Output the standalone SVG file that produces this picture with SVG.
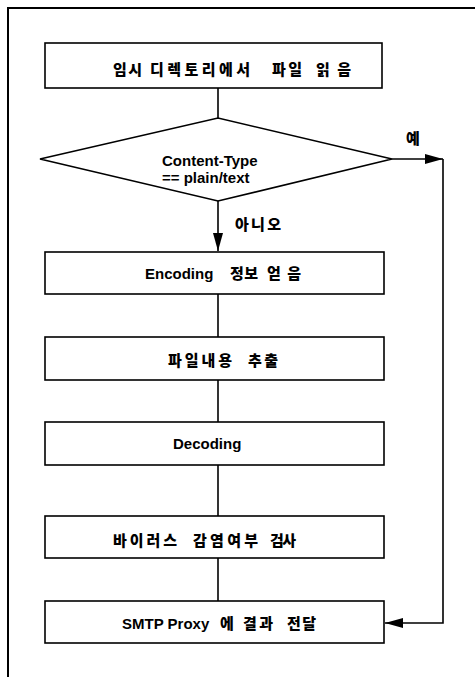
<svg xmlns="http://www.w3.org/2000/svg" width="475" height="677" viewBox="0 0 475 677">
  <style>
    .box { fill: #fff; stroke: #000; stroke-width: 1.6; }
    .frame { fill: none; stroke: #000; stroke-width: 2; }
    .line { fill: none; stroke: #000; stroke-width: 1.6; }
    .t { font-family: "Liberation Sans", "Noto Sans CJK KR", sans-serif; font-weight: bold; font-size: 15px; fill: #000; }
    .k { font-family: "Noto Sans CJK KR", sans-serif; font-weight: 900; font-size: 15px; fill: #000; }
  </style>
  <defs>
    <marker id="arrow" viewBox="0 0 18 10" refX="18" refY="5" markerWidth="18" markerHeight="10" markerUnits="userSpaceOnUse" orient="auto">
      <path d="M0,0 L18,5 L0,10 Z" fill="#000"/>
    </marker>
  </defs>
  <rect width="475" height="677" fill="#fff"/>

  <!-- page frame -->
  <path class="frame" d="M8,677 V8 H475"/>

  <!-- connectors -->
  <g id="connectors">
    <line class="line" x1="218" y1="88" x2="218" y2="118"/>
    <line class="line" x1="218" y1="201" x2="218" y2="251" marker-end="url(#arrow)"/>
    <line class="line" x1="218" y1="294" x2="218" y2="337"/>
    <line class="line" x1="218" y1="380" x2="218" y2="422"/>
    <line class="line" x1="218" y1="465" x2="218" y2="516"/>
    <line class="line" x1="218" y1="558" x2="218" y2="601"/>
    <line class="line" x1="392" y1="159" x2="443" y2="159" marker-end="url(#arrow)"/>
    <path class="line" d="M443,159 V623 H385" marker-end="url(#arrow)"/>
    <text class="k" x="406" y="144">예</text>
    <text class="k" x="235" y="230" textLength="46" lengthAdjust="spacing">아니오</text>
  </g>

  <g id="read-file">
    <rect class="box" x="45" y="43" width="337" height="45"/>
    <text class="k" x="113" y="75" textLength="29" lengthAdjust="spacing">임시</text>
    <text class="k" x="150" y="75" textLength="100" lengthAdjust="spacing">디렉토리에서</text>
    <text class="k" x="272" y="75" textLength="30" lengthAdjust="spacing">파일</text>
    <text class="k" x="316" y="75" textLength="35" lengthAdjust="spacing">읽음</text>
  </g>

  <g id="check-type">
    <polygon class="box" points="40,159 218,118 392,159 218,201"/>
    <text class="t" x="162" y="166">Content-Type</text>
    <text class="t" x="162" y="183">== plain/text</text>
  </g>

  <g id="get-encoding">
    <rect class="box" x="45" y="252" width="339" height="42"/>
    <text class="t" x="145" y="279">Encoding</text>
    <text class="k" x="230" y="279" textLength="28" lengthAdjust="spacing">정보</text>
    <text class="k" x="267" y="279" textLength="34" lengthAdjust="spacing">얻음</text>
  </g>

  <g id="extract-content">
    <rect class="box" x="45" y="337" width="339" height="43"/>
    <text class="k" x="168" y="366" textLength="64" lengthAdjust="spacing">파일내용</text>
    <text class="k" x="248" y="366" textLength="30" lengthAdjust="spacing">추출</text>
  </g>

  <g id="decoding">
    <rect class="box" x="45" y="422" width="339" height="43"/>
    <text class="t" x="173" y="449">Decoding</text>
  </g>

  <g id="virus-scan">
    <rect class="box" x="45" y="516" width="339" height="42"/>
    <text class="k" x="113" y="546" textLength="64" lengthAdjust="spacing">바이러스</text>
    <text class="k" x="193" y="546" textLength="65" lengthAdjust="spacing">감염여부</text>
    <text class="k" x="270" y="546" textLength="26" lengthAdjust="spacing">검사</text>
  </g>

  <g id="send-result">
    <rect class="box" x="45" y="601" width="339" height="42"/>
    <text class="t" x="122" y="629">SMTP Proxy</text>
    <text class="k" x="220" y="629">에</text>
    <text class="k" x="243" y="629" textLength="30" lengthAdjust="spacing">결과</text>
    <text class="k" x="287" y="629" textLength="29" lengthAdjust="spacing">전달</text>
  </g>
</svg>
